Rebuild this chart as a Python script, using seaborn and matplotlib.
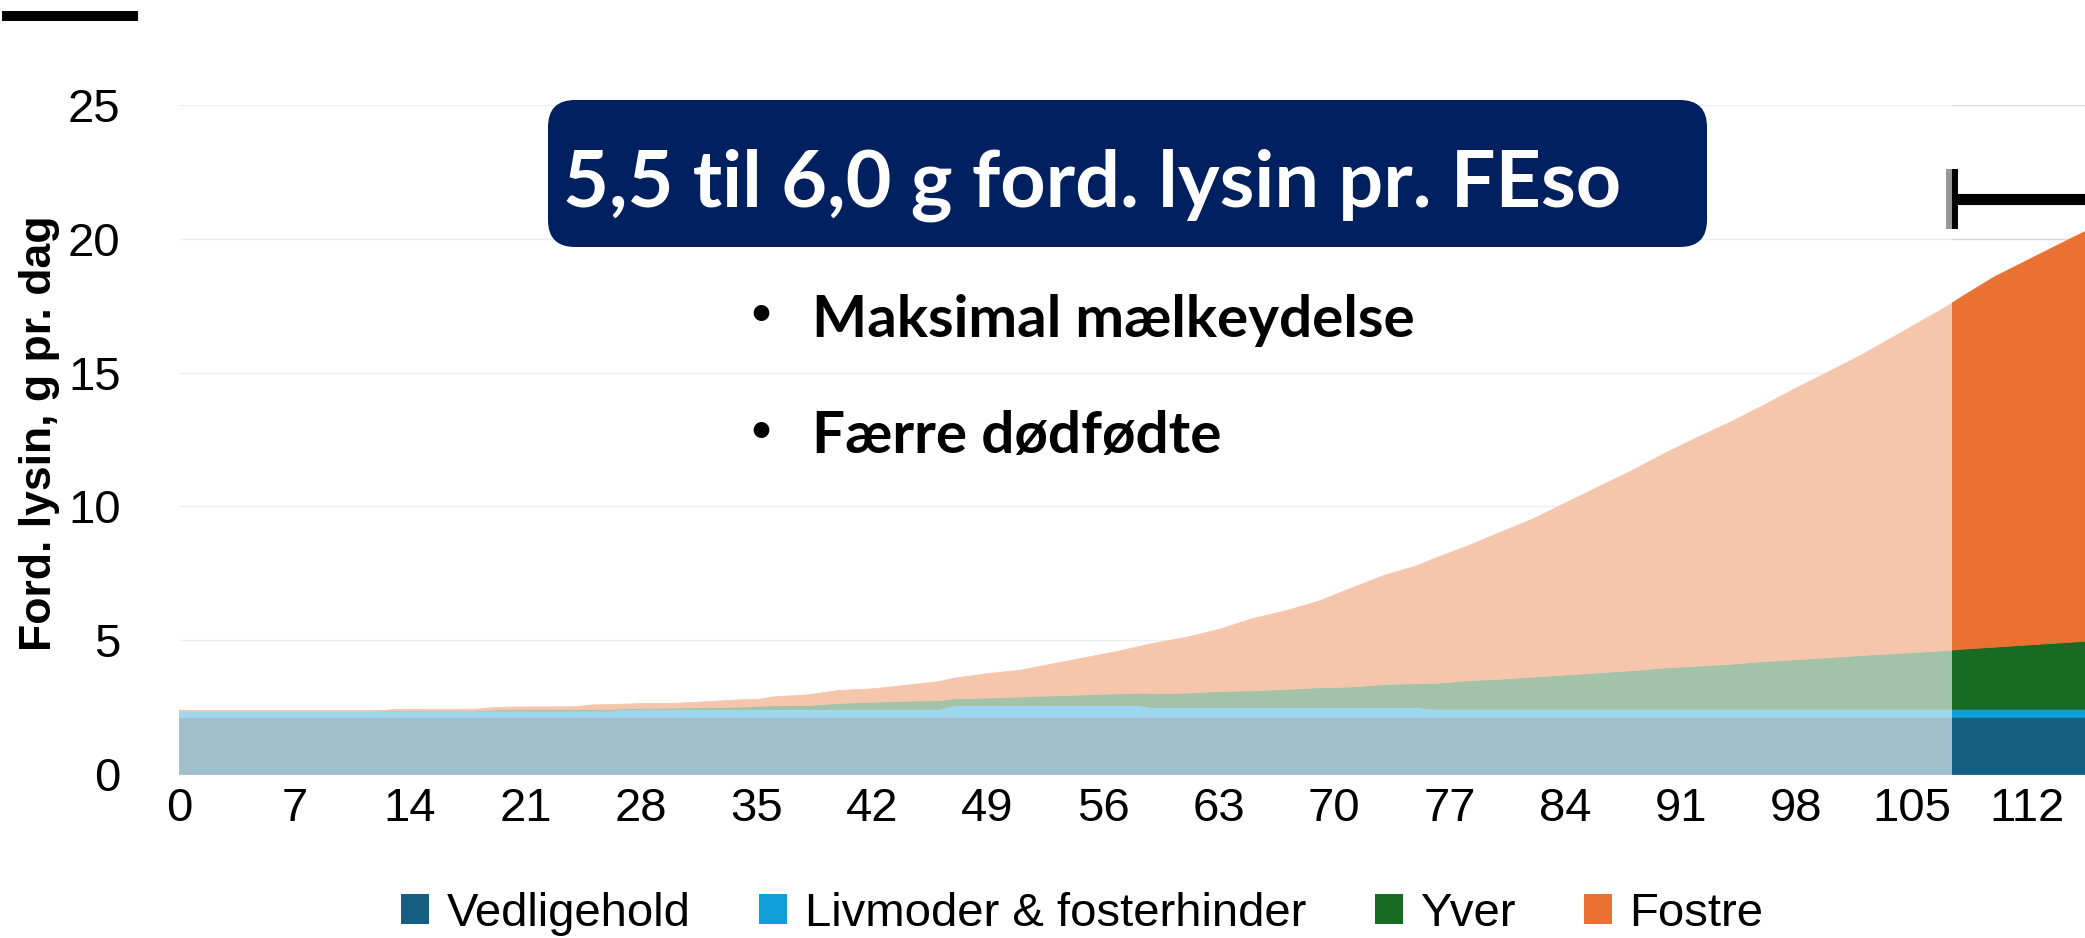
import matplotlib
matplotlib.use("Agg")
import matplotlib.pyplot as plt
import seaborn as sns
from matplotlib.patches import Rectangle, FancyBboxPatch, Patch

# dage i drægtigheden
days = [0, 7, 12, 13, 18, 19, 20, 24, 25, 26,
        27, 28, 30, 32, 34, 35, 36, 38, 40, 42, 44, 46,
        47, 49, 51, 53, 55, 57, 58,
        59, 61, 63, 65, 67, 69, 71, 73, 75,
        76, 78, 80, 82, 84, 86, 88, 90, 92, 94, 96, 98, 100, 102, 104, 106,
        107, 108, 110, 112, 114, 116]

# ford. lysin, g pr. dag
vedligehold = [2.14, 2.14, 2.14, 2.14, 2.14, 2.14, 2.14, 2.14, 2.14, 2.14,
               2.14, 2.14, 2.14, 2.14, 2.14, 2.14, 2.14, 2.14, 2.14, 2.14, 2.14, 2.14,
               2.14, 2.14, 2.14, 2.14, 2.14, 2.14, 2.14,
               2.14, 2.14, 2.14, 2.14, 2.14, 2.14, 2.14, 2.14, 2.14,
               2.14, 2.14, 2.14, 2.14, 2.14, 2.14, 2.14, 2.14, 2.14, 2.14, 2.14, 2.14,
               2.14, 2.14, 2.14, 2.14, 2.14, 2.14, 2.14, 2.14, 2.14, 2.14]
livmoder = [0.23, 0.23, 0.23, 0.23, 0.23, 0.23, 0.23, 0.23, 0.23, 0.23,
            0.29, 0.29, 0.29, 0.29, 0.29, 0.29, 0.29, 0.29, 0.29, 0.29, 0.29, 0.29,
            0.44, 0.44, 0.44, 0.44, 0.44, 0.44, 0.44,
            0.36, 0.36, 0.36, 0.36, 0.36, 0.36, 0.36, 0.36, 0.36,
            0.30, 0.30, 0.30, 0.30, 0.30, 0.30, 0.30, 0.30, 0.30, 0.30, 0.30, 0.30,
            0.30, 0.30, 0.30, 0.30, 0.30, 0.30, 0.30, 0.30, 0.30, 0.30]
yver = [0.00, 0.00, 0.00, 0.00, 0.00, 0.04, 0.05, 0.05, 0.05, 0.05,
        0.03, 0.04, 0.05, 0.07, 0.09, 0.12, 0.14, 0.15, 0.23, 0.27, 0.31, 0.33,
        0.25, 0.28, 0.32, 0.36, 0.40, 0.44, 0.46,
        0.52, 0.54, 0.60, 0.63, 0.68, 0.74, 0.77, 0.86, 0.90,
        0.96, 1.06, 1.12, 1.20, 1.28, 1.36, 1.44, 1.54, 1.61, 1.68, 1.78, 1.85,
        1.93, 2.01, 2.08, 2.15, 2.19, 2.24, 2.32, 2.40, 2.48, 2.56]
fostre = [0.00, 0.00, 0.00, 0.06, 0.07, 0.09, 0.10, 0.11, 0.18, 0.19,
          0.17, 0.18, 0.18, 0.22, 0.27, 0.25, 0.33, 0.39, 0.48, 0.50, 0.59, 0.71,
          0.77, 0.91, 1.00, 1.20, 1.40, 1.60, 1.72,
          1.88, 2.08, 2.32, 2.69, 2.93, 3.23, 3.69, 4.08, 4.40,
          4.66, 5.02, 5.48, 5.90, 6.43, 6.95, 7.47, 8.02, 8.55, 9.05, 9.58, 10.16,
          10.70, 11.25, 11.88, 12.51, 12.82, 13.17, 13.84, 14.38, 14.92, 15.45]

series_names = ["Vedligehold", "Livmoder & fosterhinder", "Yver", "Fostre"]
colors = ["#156082", "#0F9ED5", "#196B24", "#E97132"]
x_ticks = [0, 7, 14, 21, 28, 35, 42, 49, 56, 63, 70, 77, 84, 91, 98, 105, 112]
y_ticks = [0, 5, 10, 15, 20, 25]

split_day = 107.45   # everything left of this is faded out

sns.set_theme(style="white")
plt.rcParams["font.family"] = ["Liberation Sans", "DejaVu Sans"]
plt.rcParams["text.color"] = "black"
title_font = ["Lato", "DejaVu Sans"]

W, H = 2085, 938
fig = plt.figure(figsize=(W / 100, H / 100), dpi=100)
ax = fig.add_axes([179 / W, 1 - 774 / H, (W - 179) / W, (774 - 105) / H])

ax.stackplot(days, vedligehold, livmoder, yver, fostre, colors=colors,
             labels=series_names, zorder=1, linewidth=0.6, edgecolor="face")
ax.set_xlim(0, 115.5)
ax.set_ylim(0, 25)
ax.set_xticks(x_ticks)
ax.set_yticks(y_ticks)
ax.grid(axis="y", color="#D9D9D9", lw=1.0)
ax.grid(axis="x", visible=False)
ax.set_axisbelow(True)
sns.despine(ax=ax, left=True, bottom=True)
ax.tick_params(axis="both", length=0, labelsize=34, colors="black")
ax.tick_params(axis="y", pad=42)
ax.tick_params(axis="x", pad=9)

# bracket over the last days
bk = dict(color="black", solid_capstyle="butt", zorder=2, clip_on=False)
ax.plot([split_day, split_day], [20.37, 22.6], lw=8.6, **bk)
ax.plot([split_day, 115.7], [21.5, 21.5], lw=8.0, **bk)
ax.plot([115.7, 115.7], [20.37, 22.6], lw=8.6, **bk)

# white veil over the early part of the chart
ax.add_patch(Rectangle((0, -0.3), split_day, 25.6, facecolor="white",
                       alpha=0.6, lw=0, zorder=3, clip_on=False))

fig.text(40 / W, 1 - 433.6 / H, "Ford. lysin, g pr. dag", rotation=90,
         ha="center", va="center", fontsize=32, fontweight="bold", color="black")

# black bar top left
fig.add_artist(Rectangle((0.02, 9.17), 1.36, 0.10, transform=fig.dpi_scale_trans,
                         facecolor="black", lw=0))

# title box
fig.add_artist(FancyBboxPatch((5.48, 6.91), 11.59, 1.47,
                              boxstyle="round,pad=0,rounding_size=0.27",
                              transform=fig.dpi_scale_trans,
                              facecolor="#002060", edgecolor="none"))
fig.text(563 / W, 1 - 206.7 / H, "5,5 til 6,0 g ford. lysin pr. FEso",
         color="white", fontsize=57, fontweight="bold", family=title_font,
         ha="left", va="baseline")

for txt, base in [("Maksimal mælkeydelse", 336.7), ("Færre dødfødte", 453.3)]:
    fig.text(761 / W, 1 - (base - 23) / H, "•", fontsize=26, fontweight="bold",
             family=title_font, ha="center", va="center", color="black")
    fig.text(812 / W, 1 - base / H, txt, fontsize=42, fontweight="bold",
             family=title_font, ha="left", va="baseline", color="black")

handles = [Patch(facecolor=c, edgecolor="none") for c in colors]
fig.legend(handles, series_names, loc="center", bbox_to_anchor=(0.519, 0.0256),
           ncol=4, frameon=False, fontsize=34, handlelength=0.6, handleheight=0.6,
           handletextpad=0.37, columnspacing=1.45, borderpad=0, borderaxespad=0,
           labelcolor="black")

fig.savefig("out.png", dpi=100)
